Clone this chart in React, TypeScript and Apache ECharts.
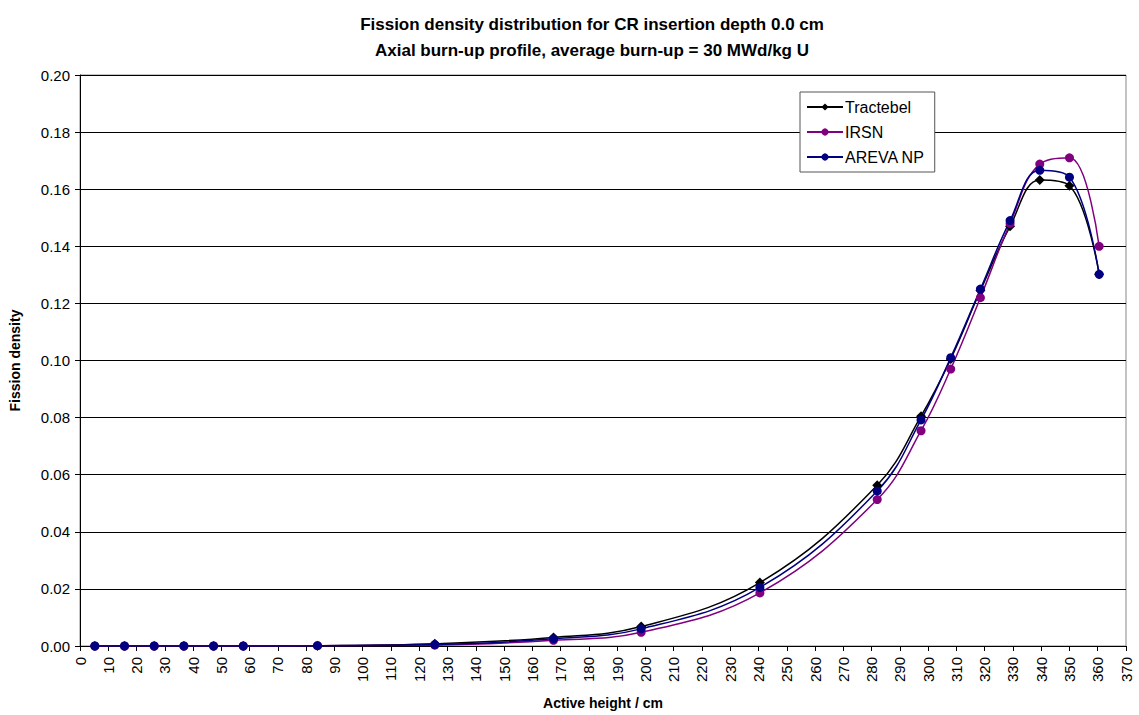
import React, { useEffect, useRef } from "react";
import * as echarts from "echarts";

// Axial node mid-heights (cm)
const heights = [5.25, 15.75, 26.25, 36.75, 47.25, 57.75, 84, 125.5, 167.5, 198.5, 240.5, 282, 297.5, 308, 318.5, 329, 339.5, 350, 360.5];

const tractebel = [0, 0, 0, 0, 0, 0, 0.0001, 0.0008, 0.003, 0.0068, 0.0222, 0.0563, 0.0805, 0.1005, 0.1245, 0.147, 0.1632, 0.1612, 0.1302];
const irsn = [0, 0, 0, 0, 0, 0, 0.0001, 0.0003, 0.002, 0.0048, 0.0186, 0.0513, 0.0754, 0.097, 0.122, 0.148, 0.1688, 0.171, 0.14];
const arevaNp = [0, 0, 0, 0, 0, 0, 0.0001, 0.0005, 0.0025, 0.006, 0.0205, 0.0543, 0.0792, 0.101, 0.125, 0.149, 0.1666, 0.1642, 0.1302];

const titleLines = [
  "Fission density distribution for CR insertion depth 0.0 cm",
  "Axial burn-up profile, average burn-up = 30 MWd/kg U",
];

const FONT = "Liberation Sans, Arial, sans-serif";

function pairs(ys: number[]) {
  return heights.map((h, i) => [h, ys[i]]);
}

export default function App() {
  const ref = useRef<HTMLDivElement>(null);

  useEffect(() => {
    if (!ref.current) return;
    const chart = echarts.init(ref.current, undefined, { renderer: "svg" });
    const mk = (name: string, ys: number[], color: string, symbol: string, size: number) => ({
      name,
      type: "line",
      data: pairs(ys),
      smooth: 0.4,
      symbol,
      symbolSize: size,
      lineStyle: { color, width: 1.5 },
      itemStyle: { color },
    });
    chart.setOption({
      animation: false,
      backgroundColor: "#ffffff",
      title: {
        text: titleLines.join("\n"),
        left: 587,
        textAlign: "center",
        top: 6,
        textStyle: { fontFamily: FONT, fontSize: 17, fontWeight: "bold", color: "#000", lineHeight: 26 },
      },
      legend: {
        orient: "vertical",
        left: 800,
        top: 92,
        width: 133,
        padding: [7, 10, 7, 6],
        itemGap: 9,
        itemWidth: 36,
        itemHeight: 9,
        borderColor: "#555",
        borderWidth: 1,
        backgroundColor: "#fff",
        textStyle: { fontFamily: FONT, fontSize: 16, color: "#000", padding: [0, 0, 0, -3] },
        data: ["Tractebel", "IRSN", "AREVA NP"],
      },
      grid: {
        left: 80,
        right: 13,
        top: 75,
        bottom: 69,
        outerBoundsMode: "none",
        containLabel: false,
        show: true,
        borderColor: "#888",
        borderWidth: 1,
        backgroundColor: "#fff",
      },
      xAxis: {
        type: "value",
        min: 0,
        max: 370,
        interval: 10,
        name: "Active height / cm",
        nameLocation: "middle",
        nameGap: 50,
        nameTextStyle: { fontFamily: FONT, fontSize: 14, fontWeight: "bold", color: "#000" },
        axisLine: { show: true, lineStyle: { color: "#000", width: 1 } },
        axisTick: { show: true, length: 5, lineStyle: { color: "#000" } },
        axisLabel: {
          rotate: 90,
          fontFamily: FONT,
          fontSize: 15,
          color: "#000",
          margin: 11,
          showMinLabel: true,
          showMaxLabel: true,
        },
        splitLine: { show: false },
      },
      yAxis: {
        type: "value",
        min: 0,
        max: 0.2,
        interval: 0.02,
        name: "Fission density",
        nameLocation: "middle",
        nameGap: 58,
        nameRotate: 90,
        nameTextStyle: { fontFamily: FONT, fontSize: 14, fontWeight: "bold", color: "#000" },
        axisLine: { show: true, lineStyle: { color: "#000", width: 1 } },
        axisTick: { show: true, length: 5, lineStyle: { color: "#000" } },
        axisLabel: {
          fontFamily: FONT,
          fontSize: 15,
          color: "#000",
          margin: 10,
          formatter: (v: number) => v.toFixed(2),
        },
        splitLine: { show: true, lineStyle: { color: "#000", width: 1 } },
      },
      series: [
        mk("Tractebel", tractebel, "#000000", "diamond", 10),
        mk("IRSN", irsn, "#800080", "circle", 9),
        mk("AREVA NP", arevaNp, "#000080", "circle", 9),
      ],
    });
    return () => chart.dispose();
  }, []);

  return (
    <div
      ref={ref}
      style={{ position: "absolute", left: 0, top: 0, width: 1139, height: 715 }}
    />
  );
}
